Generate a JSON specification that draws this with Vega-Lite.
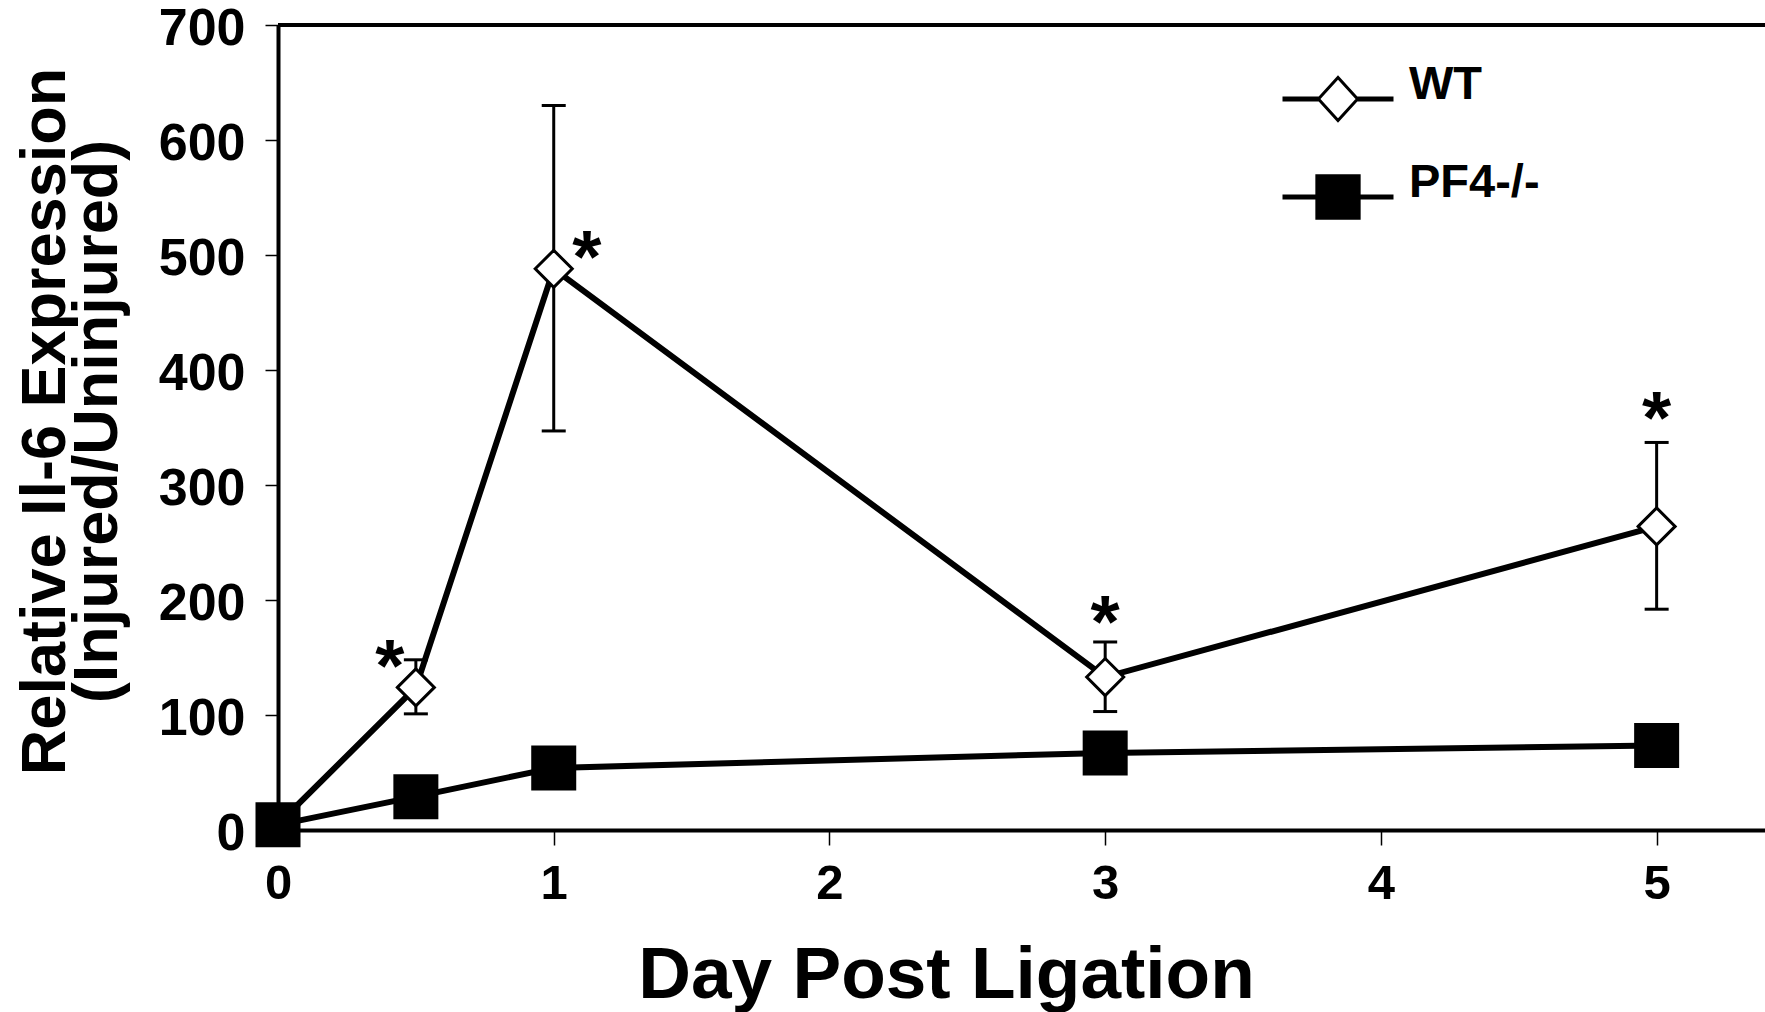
{
  "$schema": "https://vega.github.io/schema/vega-lite/v6.json",
  "width": 1487,
  "height": 805,
  "autosize": {"type": "none"},
  "padding": {"left": 278, "top": 25, "right": 0, "bottom": 182},
  "background": "white",
  "config": {"view": {"stroke": null}, "font": "Liberation Sans", "axis": {"grid": false}},
  "data": {"values": [
    {"series": "WT", "day": 0, "mean": 5},
    {"series": "WT", "day": 0.5, "mean": 124, "lo": 101, "hi": 148, "sig": true},
    {"series": "WT", "day": 1, "mean": 488, "lo": 347, "hi": 630, "sig": true},
    {"series": "WT", "day": 3, "mean": 133, "lo": 103, "hi": 163.5, "sig": true},
    {"series": "WT", "day": 5, "mean": 264, "lo": 192, "hi": 337, "sig": true},
    {"series": "PF4-/-", "day": 0, "mean": 4.5},
    {"series": "PF4-/-", "day": 0.5, "mean": 29},
    {"series": "PF4-/-", "day": 1, "mean": 54},
    {"series": "PF4-/-", "day": 3, "mean": 67},
    {"series": "PF4-/-", "day": 5, "mean": 73.5}
  ]},
  "layer": [
    {
      "mark": {"type": "line", "color": "black", "strokeWidth": 6},
      "encoding": {
        "x": {"field": "day", "type": "quantitative", "scale": {"domain": [0, 5.393], "nice": false, "zero": false},
          "axis": {"values": [0, 1, 2, 3, 4, 5], "format": "d", "title": "Day Post Ligation",
            "titleFont": "Liberation Sans", "titleFontSize": 73, "titleFontWeight": "bold", "titleColor": "black",
            "titleX": 668, "titleY": 167, "titleBaseline": "alphabetic", "titleAlign": "center",
            "labelFont": "Liberation Sans", "labelFontSize": 49, "labelFontWeight": "bold", "labelColor": "black",
            "labelPadding": 14, "labelFlush": false, "labelOverlap": false,
            "tickSize": 15, "tickWidth": 1.5, "tickColor": "black", "domainColor": "black", "domainWidth": 4}},
        "y": {"field": "mean", "type": "quantitative", "scale": {"domain": [0, 700], "nice": false},
          "axis": {"values": [0, 100, 200, 300, 400, 500, 600, 700], "title": ["Relative Il-6 Expression", "(Injured/Uninjured)"],
            "titleFont": "Liberation Sans", "titleFontSize": 63, "titleFontWeight": "bold", "titleColor": "black",
            "titleLineHeight": 52, "titleAngle": -90, "titleX": -214, "titleY": 396, "titleBaseline": "alphabetic", "titleAlign": "center",
            "labelFont": "Liberation Sans", "labelFontSize": 52, "labelFontWeight": "bold", "labelColor": "black",
            "labelPadding": 20, "labelBaseline": "middle", "labelOffset": 3, "labelFlush": false, "labelOverlap": false,
            "tickSize": 13, "tickWidth": 1.5, "tickColor": "black", "domainColor": "black", "domainWidth": 4}},
        "detail": {"field": "series", "type": "nominal"}
      }
    },
    {
      "transform": [{"filter": "isValid(datum.hi)"}],
      "mark": {"type": "rule", "color": "black", "strokeWidth": 3},
      "encoding": {
        "x": {"field": "day", "type": "quantitative"},
        "y": {"field": "lo", "type": "quantitative"},
        "y2": {"field": "hi"}
      }
    },
    {
      "transform": [{"filter": "isValid(datum.hi)"}],
      "mark": {"type": "tick", "orient": "horizontal", "color": "black", "size": 24, "thickness": 3, "opacity": 1},
      "encoding": {
        "x": {"field": "day", "type": "quantitative"},
        "y": {"field": "hi", "type": "quantitative"}
      }
    },
    {
      "transform": [{"filter": "isValid(datum.lo)"}],
      "mark": {"type": "tick", "orient": "horizontal", "color": "black", "size": 24, "thickness": 3, "opacity": 1},
      "encoding": {
        "x": {"field": "day", "type": "quantitative"},
        "y": {"field": "lo", "type": "quantitative"}
      }
    },
    {
      "transform": [{"filter": "datum.sig && datum.day != 1"}],
      "mark": {"type": "text", "text": "*", "font": "Liberation Sans", "fontWeight": "bold", "fontSize": 75, "color": "black",
        "align": "center", "baseline": "middle",
        "dx": {"expr": "datum.day == 0.5 ? -26 : 0"},
        "dy": {"expr": "datum.day == 0.5 ? 8 : (datum.day == 3 ? -18 : -22)"}},
      "encoding": {
        "x": {"field": "day", "type": "quantitative"},
        "y": {"field": "hi", "type": "quantitative"}
      }
    },
    {
      "transform": [{"filter": "datum.sig && datum.day == 1"}],
      "mark": {"type": "text", "text": "*", "font": "Liberation Sans", "fontWeight": "bold", "fontSize": 75, "color": "black",
        "align": "center", "baseline": "middle", "dx": 33, "dy": -10},
      "encoding": {
        "x": {"field": "day", "type": "quantitative"},
        "y": {"field": "mean", "type": "quantitative"}
      }
    },
    {
      "transform": [{"filter": "datum.series == 'WT'"}],
      "mark": {"type": "point", "shape": "diamond", "filled": true, "fill": "white", "size": 1369, "stroke": "black", "strokeWidth": 3, "opacity": 1},
      "encoding": {
        "x": {"field": "day", "type": "quantitative"},
        "y": {"field": "mean", "type": "quantitative"}
      }
    },
    {
      "transform": [{"filter": "datum.series == 'PF4-/-'"}],
      "mark": {"type": "point", "shape": "square", "filled": true, "fill": "black", "size": 2025, "strokeWidth": 0, "opacity": 1},
      "encoding": {
        "x": {"field": "day", "type": "quantitative"},
        "y": {"field": "mean", "type": "quantitative"}
      }
    },
    {
      "mark": {"type": "point", "filled": true, "size": 2025, "strokeWidth": 3, "opacity": 0},
      "encoding": {
        "x": {"field": "day", "type": "quantitative"},
        "y": {"field": "mean", "type": "quantitative"},
        "shape": {"field": "series", "type": "nominal",
          "scale": {"domain": ["WT", "PF4-/-"], "range": [
            "M-2.4,-0.04L-0.87,-0.04L-0.87,0.04L-2.4,0.04ZM-0.87,0L0,-0.96L0.87,0L0,0.96ZM0.87,-0.04L2.4,-0.04L2.4,0.04L0.87,0.04Z",
            "M-2.4,-0.045L-0.94,-0.045L-0.94,-0.94L0.94,-0.94L0.94,-0.045L2.4,-0.045L2.4,0.045L0.94,0.045L0.94,0.94L-0.94,0.94L-0.94,0.045L-2.4,0.045Z"]},
          "legend": {"title": null, "orient": "none", "legendX": 1036, "legendY": 50, "padding": 0,
            "symbolSize": 2025, "symbolStrokeWidth": 3, "symbolOpacity": 1,
            "labelFont": "Liberation Sans", "labelFontSize": 47, "labelFontWeight": "bold", "labelColor": "black",
            "labelBaseline": "alphabetic", "labelOffset": 47, "rowPadding": 32}},
        "fill": {"field": "series", "type": "nominal", "scale": {"domain": ["WT", "PF4-/-"], "range": ["white", "black"]},
          "legend": {"title": null, "orient": "none", "legendX": 1036, "legendY": 50, "padding": 0,
            "symbolSize": 2025, "symbolStrokeWidth": 3, "symbolOpacity": 1,
            "labelFont": "Liberation Sans", "labelFontSize": 47, "labelFontWeight": "bold", "labelColor": "black",
            "labelBaseline": "alphabetic", "labelOffset": 47, "rowPadding": 32}},
        "stroke": {"field": "series", "type": "nominal", "scale": {"domain": ["WT", "PF4-/-"], "range": ["black", "black"]},
          "legend": {"title": null, "orient": "none", "legendX": 1036, "legendY": 50, "padding": 0,
            "symbolSize": 2025, "symbolStrokeWidth": 3, "symbolOpacity": 1,
            "labelFont": "Liberation Sans", "labelFontSize": 47, "labelFontWeight": "bold", "labelColor": "black",
            "labelBaseline": "alphabetic", "labelOffset": 47, "rowPadding": 32}}
      }
    },
    {
      "mark": {"type": "rule", "color": "black", "strokeWidth": 3},
      "encoding": {"y": {"datum": 700, "type": "quantitative"}}
    }
  ]
}
